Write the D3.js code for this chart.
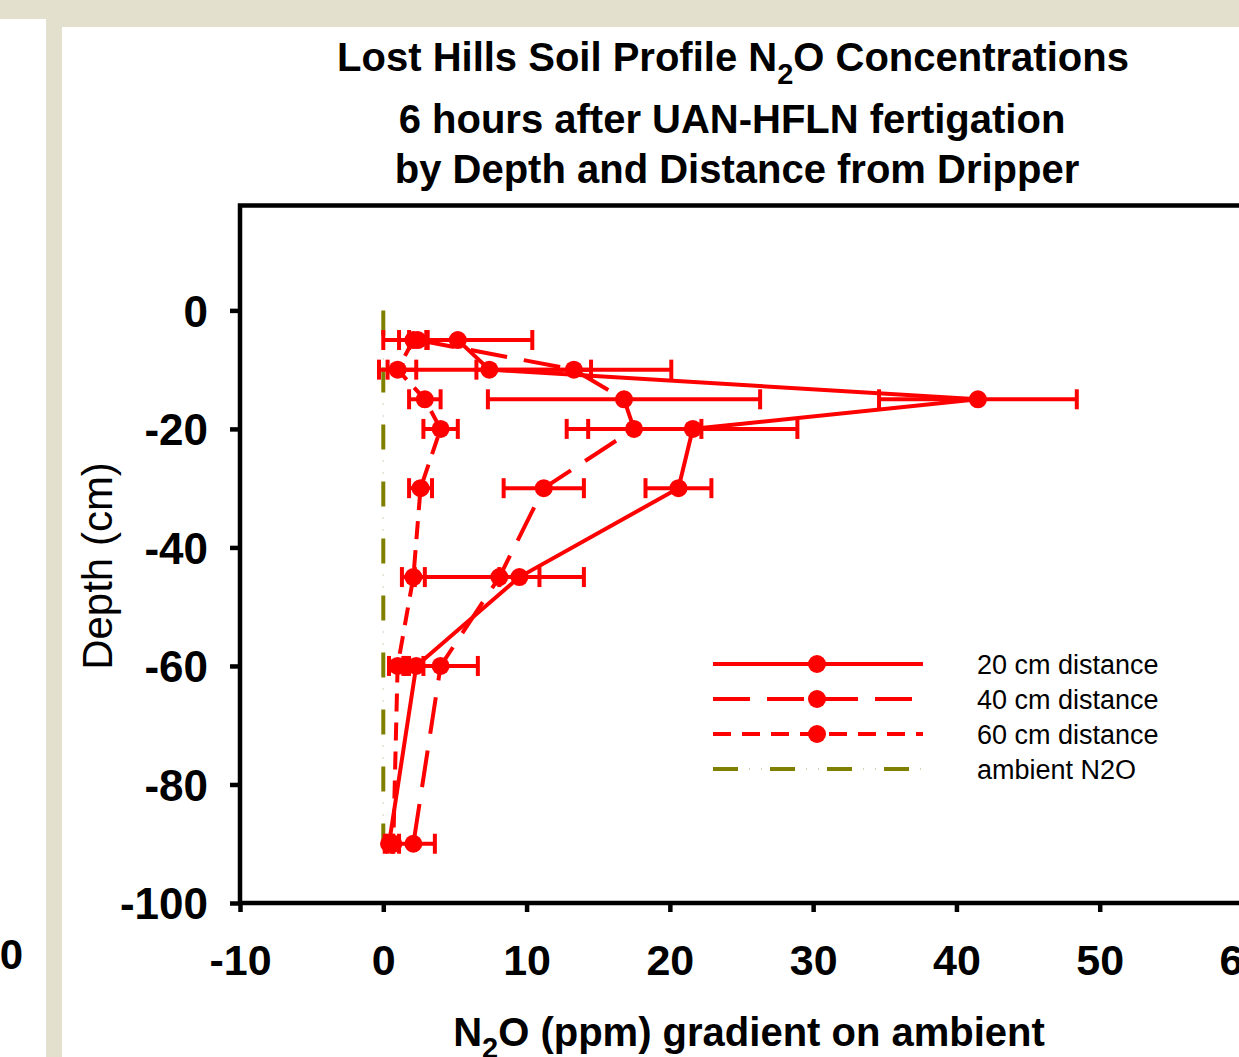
<!DOCTYPE html>
<html>
<head>
<meta charset="utf-8">
<script src="https://cdn.jsdelivr.net/npm/d3@7"></script>
<style>
  body { margin: 0; background: #fff; }
  text { font-family: "Liberation Sans", Arial, sans-serif; }
</style>
</head>
<body>
<div id="chart"></div>
<script>
// depths (cm) of the sampling points
const depths = [-5, -10, -15, -20, -30, -45, -60, -90];

// N2O gradient on ambient (ppm) and error bar half-widths
const dist20 = [5.2, 7.4, 41.5, 21.6, 20.6, 9.5, 2.3, 0.4];
const err20  = [5.2, 7.1, 6.9, 7.3, 2.3, 1.4, 0.5, 0.3];
const dist40 = [2.4, 13.3, 16.8, 17.5, 11.2, 8.1, 4.0, 2.1];
const err40  = [0.6, 6.8, 9.5, 4.7, 2.8, 5.9, 2.6, 1.5];
const dist60 = [2.1, 1.0, 2.9, 4.0, 2.6, 2.1, 1.0, 0.7];
const err60  = [1.0, 1.3, 1.1, 1.2, 0.8, 0.8, 0.6, 0.4];

const ambientDepths = [0, -5, -10, -15, -20, -30, -45, -60, -90];
const ambientValues = [0, 0, 0, 0, 0, 0, 0, 0, 0];

const seriesNames = ["20 cm distance", "40 cm distance", "60 cm distance", "ambient N2O"];
const xTicks = [-10, 0, 10, 20, 30, 40, 50, 60];
const yTicks = [0, -20, -40, -60, -80, -100];

const W = 1239, H = 1057;
const red = "#ff0000", olive = "#808000";

const svg = d3.select("#chart")
    .append("svg")
    .attr("width", W)
    .attr("height", H);

// slide background
svg.append("rect").attr("width", W).attr("height", H).attr("fill", "#e3e0cd");
svg.append("rect").attr("x", 0).attr("y", 19).attr("width", 46).attr("height", H).attr("fill", "#fff");
svg.append("rect").attr("x", 62).attr("y", 27).attr("width", W).attr("height", H).attr("fill", "#fff");

// cut-off label of the neighbouring chart
svg.append("text")
    .attr("x", 23).attr("y", 969)
    .attr("text-anchor", "end")
    .attr("font-size", 42).attr("font-weight", "bold")
    .text("60");

const x = d3.scaleLinear().domain([-10, 60]).range([240, 1243]);
const y = d3.scaleLinear().domain([-100, 17.7]).range([903, 205.5]);

// title
const title = svg.append("g").attr("font-weight", "bold").attr("font-size", 40).attr("text-anchor", "middle");
const t1 = title.append("text").attr("x", 733).attr("y", 71);
t1.append("tspan").text("Lost Hills Soil Profile N");
t1.append("tspan").attr("font-size", 29).attr("dy", 13).text("2");
t1.append("tspan").attr("dy", -13).text("O Concentrations");
title.append("text").attr("x", 732).attr("y", 133).text("6 hours after UAN-HFLN fertigation");
title.append("text").attr("x", 737).attr("y", 183).text("by Depth and Distance from Dripper");

// frame
svg.append("rect")
    .attr("x", x(-10)).attr("y", y(17.7))
    .attr("width", x(60) - x(-10)).attr("height", y(-100) - y(17.7))
    .attr("fill", "none").attr("stroke", "#000").attr("stroke-width", 4.5);

const xAxis = svg.append("g")
    .attr("transform", `translate(0,${y(-100)})`)
    .call(d3.axisBottom(x).tickValues(xTicks).tickSize(9).tickFormat(d => d));
xAxis.select(".domain").remove();
xAxis.selectAll("line").attr("stroke-width", 4.5);
xAxis.selectAll("text")
    .attr("y", 72).attr("dy", null)
    .attr("fill", "#000")
    .attr("font-size", 43).attr("font-weight", "bold")
    .attr("font-family", "Liberation Sans, Arial, sans-serif");

const yAxis = svg.append("g")
    .attr("transform", `translate(${x(-10)},0)`)
    .call(d3.axisLeft(y).tickValues(yTicks).tickSize(10).tickFormat(d => d));
yAxis.select(".domain").remove();
yAxis.selectAll("line").attr("stroke-width", 4.5);
yAxis.selectAll("text")
    .attr("x", -32).attr("dy", "0.36em")
    .attr("fill", "#000")
    .attr("font-size", 44).attr("font-weight", "bold")
    .attr("font-family", "Liberation Sans, Arial, sans-serif");

// axis titles
svg.append("text")
    .attr("transform", "translate(112,566) rotate(-90)")
    .attr("text-anchor", "middle")
    .attr("font-size", 42)
    .text("Depth (cm)");

const xt = svg.append("text")
    .attr("x", 749).attr("y", 1046)
    .attr("text-anchor", "middle")
    .attr("font-size", 40).attr("font-weight", "bold");
xt.append("tspan").text("N");
xt.append("tspan").attr("font-size", 29).attr("dy", 12).text("2");
xt.append("tspan").attr("dy", -12).text("O (ppm) gradient on ambient");

// ambient line
const ambient = ambientDepths.map((d, i) => ({ d, v: ambientValues[i] }));
const line = d3.line().x(p => x(p.v)).y(p => y(p.d));
svg.append("path")
    .datum(ambient)
    .attr("d", line)
    .attr("fill", "none").attr("stroke", olive).attr("stroke-width", 4)
    .attr("stroke-dasharray", "25,32");
svg.append("path")
    .datum(ambient)
    .attr("d", line)
    .attr("fill", "none").attr("stroke", "#c8c4a4").attr("stroke-width", 1.5)
    .attr("stroke-dasharray", "1,11,1,44")
    .attr("stroke-dashoffset", -36);

const series = [
    { values: dist20, errors: err20, dash: null },
    { values: dist40, errors: err40, dash: "37,17" },
    { values: dist60, errors: err60, dash: "18,11" }
];

series.forEach(s => {
    const pts = depths.map((d, i) => ({ d, v: s.values[i], e: s.errors[i] }));
    const g = svg.append("g");

    const eb = g.selectAll(".err").data(pts).join("g").attr("class", "err")
        .attr("stroke", red).attr("stroke-width", 4);
    eb.append("line")
        .attr("x1", p => x(p.v - p.e)).attr("x2", p => x(p.v + p.e))
        .attr("y1", p => y(p.d)).attr("y2", p => y(p.d));
    eb.append("line")
        .attr("x1", p => x(p.v - p.e)).attr("x2", p => x(p.v - p.e))
        .attr("y1", p => y(p.d) - 10).attr("y2", p => y(p.d) + 10);
    eb.append("line")
        .attr("x1", p => x(p.v + p.e)).attr("x2", p => x(p.v + p.e))
        .attr("y1", p => y(p.d) - 10).attr("y2", p => y(p.d) + 10);

    g.append("path")
        .datum(pts)
        .attr("d", line)
        .attr("fill", "none").attr("stroke", red).attr("stroke-width", 4)
        .attr("stroke-dasharray", s.dash);

    g.selectAll("circle").data(pts).join("circle")
        .attr("cx", p => x(p.v)).attr("cy", p => y(p.d))
        .attr("r", 9).attr("fill", red);
});

// legend
const legend = svg.append("g");
const legendDash = [null, "37,17", "18,11", "25,32"];
seriesNames.forEach((name, i) => {
    const ly = 664 + i * 35;
    const col = i < 3 ? red : olive;
    legend.append("line")
        .attr("x1", 713).attr("x2", 923).attr("y1", ly).attr("y2", ly)
        .attr("stroke", col).attr("stroke-width", 4)
        .attr("stroke-dasharray", legendDash[i]);
    if (i < 3) {
        legend.append("circle").attr("cx", 817).attr("cy", ly).attr("r", 9).attr("fill", red);
    } else {
        legend.append("line")
            .attr("x1", 713).attr("x2", 923).attr("y1", ly).attr("y2", ly)
            .attr("stroke", "#c8c4a4").attr("stroke-width", 1.5)
            .attr("stroke-dasharray", "1,11,1,44")
            .attr("stroke-dashoffset", -36);
    }
    legend.append("text")
        .attr("x", 977).attr("y", ly + 10)
        .attr("font-size", 27)
        .text(name);
});
</script>
</body>
</html>
